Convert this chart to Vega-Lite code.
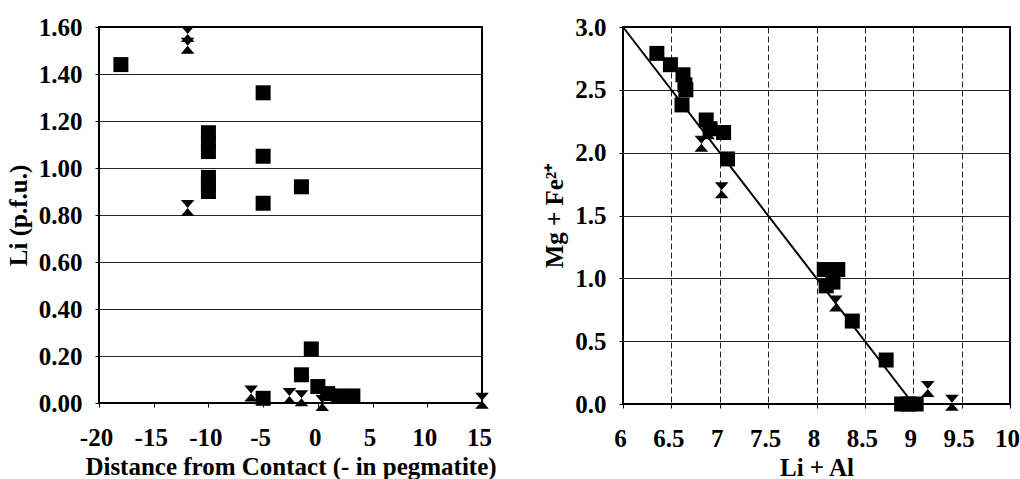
{
  "$schema": "https://vega.github.io/schema/vega-lite/v6.json",
  "background": "white",
  "padding": {"left": 5, "top": 14, "right": 0, "bottom": 0},
  "config": {
    "font": "Liberation Serif",
    "view": {"stroke": "black", "strokeWidth": 2},
    "axis": {
      "labelFont": "Liberation Serif", "labelFontWeight": "bold", "labelFontSize": 25, "labelColor": "black",
      "titleFont": "Liberation Serif", "titleFontWeight": "bold", "titleFontSize": 25, "titleColor": "black",
      "domain": false, "tickColor": "black", "tickSize": 4,
      "gridColor": "black", "gridWidth": 1, "gridOpacity": 0.85
    },
    "axisX": {"gridDash": [6, 3], "labelPadding": 18, "titlePadding": 4, "labelFlush": false, "labelOffset": -3},
    "axisY": {"labelPadding": 13, "titlePadding": 7}
  },
  "datasets": {
    "li": [
      {"dist": -18, "li": 1.44, "type": "square"},
      {"dist": -5, "li": 1.32, "type": "square"},
      {"dist": -10, "li": 1.15, "type": "square"},
      {"dist": -10, "li": 1.11, "type": "square"},
      {"dist": -10, "li": 1.07, "type": "square"},
      {"dist": -10, "li": 0.96, "type": "square"},
      {"dist": -10, "li": 0.93, "type": "square"},
      {"dist": -10, "li": 0.9, "type": "square"},
      {"dist": -5, "li": 1.05, "type": "square"},
      {"dist": -5, "li": 0.85, "type": "square"},
      {"dist": -1.5, "li": 0.92, "type": "square"},
      {"dist": -0.6, "li": 0.23, "type": "square"},
      {"dist": -1.5, "li": 0.12, "type": "square"},
      {"dist": 0, "li": 0.07, "type": "square"},
      {"dist": 0.9, "li": 0.04, "type": "square"},
      {"dist": 1.9, "li": 0.03, "type": "square"},
      {"dist": 3.2, "li": 0.03, "type": "square"},
      {"dist": -5, "li": 0.02, "type": "square"},
      {"dist": -11.9, "li": 1.57, "type": "hourglass"},
      {"dist": -11.9, "li": 1.52, "type": "hourglass"},
      {"dist": -11.9, "li": 0.83, "type": "hourglass"},
      {"dist": -6.1, "li": 0.04, "type": "hourglass"},
      {"dist": -2.6, "li": 0.03, "type": "hourglass"},
      {"dist": -1.5, "li": 0.02, "type": "hourglass"},
      {"dist": 0.4, "li": 0.0, "type": "hourglass"},
      {"dist": 15, "li": 0.01, "type": "hourglass"}
    ],
    "mg": [
      {"lial": 6.35, "mgfe": 2.79, "type": "square"},
      {"lial": 6.49, "mgfe": 2.7, "type": "square"},
      {"lial": 6.62, "mgfe": 2.62, "type": "square"},
      {"lial": 6.64, "mgfe": 2.54, "type": "square"},
      {"lial": 6.65, "mgfe": 2.5, "type": "square"},
      {"lial": 6.61, "mgfe": 2.38, "type": "square"},
      {"lial": 6.86, "mgfe": 2.26, "type": "square"},
      {"lial": 6.9, "mgfe": 2.19, "type": "square"},
      {"lial": 7.04, "mgfe": 2.16, "type": "square"},
      {"lial": 7.08, "mgfe": 1.95, "type": "square"},
      {"lial": 8.08, "mgfe": 1.07, "type": "square"},
      {"lial": 8.22, "mgfe": 1.07, "type": "square"},
      {"lial": 8.1, "mgfe": 0.94, "type": "square"},
      {"lial": 8.17, "mgfe": 0.97, "type": "square"},
      {"lial": 8.37, "mgfe": 0.66, "type": "square"},
      {"lial": 8.72, "mgfe": 0.35, "type": "square"},
      {"lial": 8.88, "mgfe": 0.0, "type": "square"},
      {"lial": 8.95, "mgfe": 0.0, "type": "square"},
      {"lial": 9.03, "mgfe": 0.0, "type": "square"},
      {"lial": 6.81, "mgfe": 2.07, "type": "hourglass"},
      {"lial": 6.88, "mgfe": 2.17, "type": "hourglass"},
      {"lial": 7.02, "mgfe": 1.7, "type": "hourglass"},
      {"lial": 8.2, "mgfe": 0.8, "type": "hourglass"},
      {"lial": 9.15, "mgfe": 0.12, "type": "hourglass"},
      {"lial": 9.4, "mgfe": 0.01, "type": "hourglass"}
    ],
    "fit": [
      {"lial": 6, "mgfe": 3},
      {"lial": 9, "mgfe": 0}
    ]
  },
  "hconcat": [
    {
      "width": 383,
      "height": 376,
      "layer": [
        {
          "mark": {"type": "rule", "color": "black", "strokeWidth": 2.5},
          "encoding": {"x": {"datum": 0, "type": "quantitative"}}
        },
        {
          "data": {"name": "li"},
          "mark": {"type": "point", "filled": true, "color": "black", "opacity": 1, "strokeWidth": 0},
          "encoding": {
            "x": {
              "field": "dist", "type": "quantitative",
              "scale": {"domain": [-20, 15], "nice": false, "zero": false},
              "axis": {"values": [-20, -15, -10, -5, 0, 5, 10, 15], "labelExpr": "'' + datum.value", "title": "Distance from Contact (- in pegmatite)"}
            },
            "y": {
              "field": "li", "type": "quantitative",
              "scale": {"domain": [0, 1.6], "nice": false},
              "axis": {"values": [0, 0.2, 0.4, 0.6, 0.8, 1.0, 1.2, 1.4, 1.6], "format": ".2f", "title": "Li (p.f.u.)"}
            },
            "shape": {
              "field": "type", "type": "nominal",
              "scale": {"domain": ["square", "hourglass"], "range": ["square", "M-0.85,-1L0.85,-1L-0.85,1L0.85,1Z"]},
              "legend": null
            },
            "size": {
              "field": "type", "type": "nominal",
              "scale": {"domain": ["square", "hourglass"], "range": [225, 256]},
              "legend": null
            }
          }
        }
      ]
    },
    {
      "width": 387,
      "height": 377,
      "layer": [
        {
          "data": {"name": "fit"},
          "mark": {"type": "line", "color": "black", "strokeWidth": 2},
          "encoding": {
            "x": {"field": "lial", "type": "quantitative"},
            "y": {"field": "mgfe", "type": "quantitative"}
          }
        },
        {
          "data": {"name": "mg"},
          "mark": {"type": "point", "filled": true, "color": "black", "opacity": 1, "strokeWidth": 0},
          "encoding": {
            "x": {
              "field": "lial", "type": "quantitative",
              "scale": {"domain": [6, 10], "nice": false, "zero": false},
              "axis": {"values": [6, 6.5, 7, 7.5, 8, 8.5, 9, 9.5, 10], "labelExpr": "'' + datum.value", "title": "Li + Al"}
            },
            "y": {
              "field": "mgfe", "type": "quantitative",
              "scale": {"domain": [0, 3], "nice": false},
              "axis": {"values": [0, 0.5, 1, 1.5, 2, 2.5, 3], "format": ".1f", "title": "Mg + Fe²⁺"}
            },
            "shape": {
              "field": "type", "type": "nominal",
              "scale": {"domain": ["square", "hourglass"], "range": ["square", "M-0.85,-1L0.85,-1L-0.85,1L0.85,1Z"]},
              "legend": null
            },
            "size": {
              "field": "type", "type": "nominal",
              "scale": {"domain": ["square", "hourglass"], "range": [225, 256]},
              "legend": null
            }
          }
        }
      ]
    }
  ],
  "spacing": 43
}
